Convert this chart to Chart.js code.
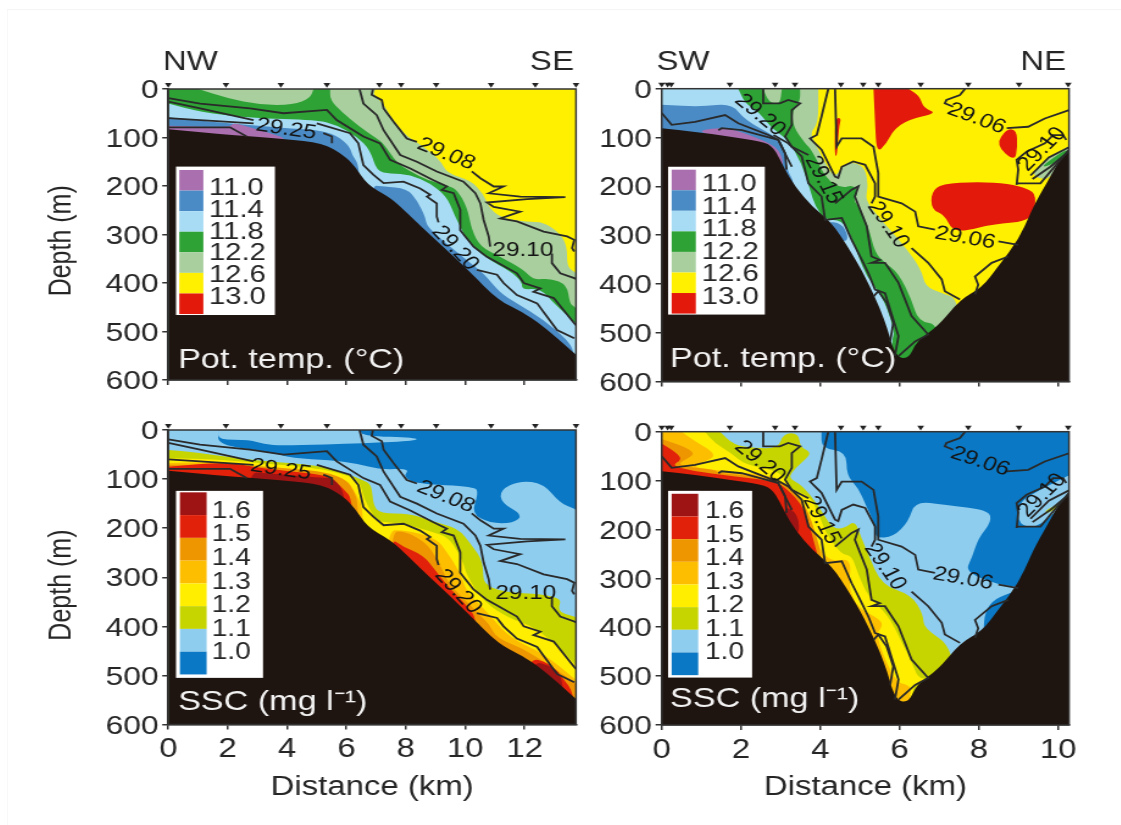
<!DOCTYPE html>
<html>
<head>
<meta charset="utf-8">
<title>Sections</title>
<script src="https://cdn.jsdelivr.net/npm/chart.js@4/dist/chart.umd.min.js"></script>
<style>
  html, body { margin: 0; background: #fff; }
  #stage { position: relative; width: 1121px; height: 825px; overflow: hidden; }
  #edge { position: absolute; left: 7px; top: 9px; right: 0; bottom: 0; border-top: 1px solid #f5f5f5; border-left: 1px solid #f8f8f8; }
  /* the figure is a bit wider than tall and soft, so stretch and blur each canvas */
  canvas { position: absolute; transform-origin: 0 0; transform: scaleX(1.22); filter: blur(0.6px); }
</style>
</head>
<body>
<div id="stage">
  <div id="edge"></div>
  <canvas id="tempNW"></canvas>
  <canvas id="tempSW"></canvas>
  <canvas id="sscNW"></canvas>
  <canvas id="sscSW"></canvas>
</div>
<script>
// ---- data, all [distance km, depth m] ----
const depthTicks = [0, 100, 200, 300, 400, 500, 600];
const stationsNW = [0, 1.94, 3.79, 5.34, 7.11, 7.84, 9.02, 10.87, 12.36, 13.73];
const stationsSW = [0, 0.15, 0.24, 1.72, 2.86, 3.36, 4.52, 5.08, 5.46, 6.53, 7.73, 9.01, 10.25];

const tempLabels = ['11.0', '11.4', '11.8', '12.2', '12.6', '13.0'];
const sscLabels = ['1.6', '1.5', '1.4', '1.3', '1.2', '1.1', '1.0'];

// seabed
const bedNW = [[0,83],[2.2,95],[3.9,103],[5.2,111],[5.9,136],[6.3,160],[6.7,198],[7.5,225],[8,253],[8.7,294],[9.5,339],[10.2,380],[11.1,435],[11.9,459],[12.6,487],[13.73,548],[13.73,600],[0,600]];
const bedSW = [[0,81],[0.84,88],[1.68,98],[2.52,108],[2.82,119],[3.11,166],[3.36,200],[3.78,241],[4.29,275],[4.71,326],[5.13,384],[5.63,473],[5.88,548],[6.22,555],[6.43,517],[6.97,487],[7.53,432],[8.07,408],[8.49,364],[9,309],[9.3,255],[9.46,228],[9.8,180],[10,150],[10.27,125],[10.27,600],[0,600]];

// potential temperature, NW-SE
const fullNW = [[0,0],[13.73,0],[13.73,600],[0,600]];
const paleNW = [[0,0],[6.97,0],[6.9,12],[7.25,30],[7.47,57],[8.03,98],[8.37,109],[9.16,146],[9.38,174],[10.17,188],[10.6,215],[10.84,249],[11.3,267],[12.08,274],[12.64,274],[13.2,298],[13.43,325],[13.43,366],[13.67,377],[13.73,380],[13.73,600],[0,600]];
const greenNW = [[0,0],[5.45,0],[5.45,23],[5.84,47],[6.35,74],[7.02,102],[7.25,112],[7.7,153],[8.15,170],[8.71,188],[9.49,201],[9.72,208],[10.06,243],[10.22,291],[10.51,325],[11.18,346],[11.97,373],[12.3,394],[12.87,390],[13.43,404],[13.52,442],[13.67,449],[13.73,452],[13.73,600],[0,600]];
const palePatchNW = [[1.01,0],[4.89,0],[4.78,19],[4.21,33],[3.09,33],[1.97,19]];
const lightNW = [[0,30],[1.07,47],[2.75,60],[5,64],[5.67,74],[6.35,98],[6.8,126],[7.02,170],[7.47,174],[8.15,177],[8.82,194],[9.38,222],[9.61,256],[9.83,284],[10.06,311],[10.62,346],[11.52,376],[11.91,397],[11.91,414],[12.53,411],[12.98,442],[13.67,480],[13.73,485],[13.73,600],[0,600]];
const blueNW1 = [[0,58],[0.73,64],[2.19,71],[3.88,81],[5,84],[5.67,95],[6.12,119],[6.18,136],[6.46,160],[6.46,300],[0,300]];
const blueNW2 = [[6.74,198],[7.25,201],[8.03,205],[8.37,229],[8.65,263],[8.71,284],[9.49,325],[10.17,359],[10.62,380],[11.18,421],[11.74,442],[12.64,476],[13.43,517],[13.67,541],[13.73,600],[6.74,600]];
const purpleNW = [[0,76],[2.08,79],[2.19,69],[2.87,81],[3.43,91],[4.1,105],[4.1,200],[0,200]];

// potential temperature, SW-NE
const fullSW = [[0,0],[10.27,0],[10.27,600],[0,600]];
const paleSW = [[0,0],[3.95,0],[3.95,71],[3.74,91],[3.87,112],[4.12,153],[4.37,183],[4.54,160],[4.83,149],[5.13,163],[5.21,200],[5.13,228],[5.46,262],[6.13,323],[6.55,371],[6.64,405],[7.06,419],[7.52,432],[7.52,600],[0,600]];
const greenSW = [[0,0],[3.49,0],[3.49,27],[3.28,47],[3.32,78],[3.61,112],[3.78,125],[4.16,187],[4.54,204],[4.83,197],[4.96,214],[4.83,228],[4.96,241],[5.21,282],[5.38,337],[5.63,357],[5.97,378],[6.3,432],[6.47,477],[7.02,484],[7.02,600],[0,600]];
const palePatchSW = [[2.56,0],[3.03,0],[2.98,33],[2.69,27]];
const lightSW = [[0,0],[1.93,0],[2.1,30],[2.44,47],[2.77,81],[3.19,105],[3.53,153],[3.74,207],[3.87,241],[4.12,269],[4.54,269],[4.79,303],[4.96,344],[5.17,385],[5.46,415],[5.67,446],[5.88,501],[5.8,514],[5.8,600],[0,600]];
const blueSW1 = [[0,33],[1.01,37],[1.76,30],[2.1,64],[2.86,98],[3.07,112],[3.15,166],[3.36,194],[3.36,300],[0,300]];
const blueSW2 = [[4.12,272],[4.54,276],[4.71,303],[4.62,316],[4,300]];
const purpleSW = [[0.92,85],[1.6,79],[2.1,91],[2.82,115],[3.03,136],[3.07,166],[2.69,119],[1.93,102],[1.18,95]];
const redSW1 = [[5.34,0],[6.22,0],[6.51,16],[6.6,40],[6.95,50],[6.22,63],[5.84,85],[5.67,112],[5.42,132],[5.38,71]];
const redSW2 = [[8.7,82],[8.95,85],[8.97,119],[8.9,150],[8.42,115]];
const redSW3 = [[7.06,195],[7.98,191],[8.74,195],[9.24,205],[9.45,219],[9.36,271],[8.32,278],[7.65,292],[7.31,289],[7.14,260],[6.8,247],[6.8,212]];
const redSW4 = [[4.37,60],[4.53,60],[4.47,78],[4.42,140],[4.36,136]];
const paleCornerSW = [[9.3,176],[9.76,141],[10.27,118],[10.27,140],[9.8,182],[9.6,186]];
const greenCornerSW = [[9.55,162],[9.9,140],[10.22,124],[10.22,133],[9.85,155]];

// SSC, NW-SE
const sscLightNW = [[0,0],[1.68,0],[1.68,31],[3.31,43],[4.21,58],[5.44,61],[6.34,68],[7.13,81],[8.14,78],[7.91,95],[8.36,110],[10.33,115],[10.44,129],[10.21,170],[10.83,190],[11.62,190],[11.95,173],[11.22,149],[11.17,122],[11.84,103],[12.63,109],[13.19,149],[13.66,160],[13.73,163],[13.73,600],[0,600]];
const sscLightTopNW = [[1.68,0],[6.45,0],[6.57,12],[8.36,16],[8.36,22],[6.68,27],[3.87,32],[3.2,29],[2.75,20],[1.68,20]];
const sscLimeNW = [[0,41],[0.84,45],[2.75,61],[4.88,71],[5.67,81],[6.57,102],[6.85,112],[6.9,153],[7.13,170],[8.14,170],[8.92,187],[9.76,200],[10.21,234],[10.61,268],[10.61,329],[13.3,336],[13.08,370],[13.66,380],[13.73,382],[13.73,600],[0,600]];
const sscYellowNW = [[0,58],[1.07,58],[2.75,65],[4.99,78],[5.78,88],[6.45,102],[6.57,139],[6.9,173],[7.01,187],[7.91,190],[9.03,210],[9.48,221],[9.93,268],[10.04,295],[10.61,350],[11.5,384],[12.18,397],[12.96,431],[13.66,475],[13.73,480],[13.73,600],[0,600]];
const sscAmberNW1 = [[0,67],[1.63,65],[2.86,71],[4.99,85],[6,98],[6.34,132],[6.57,160],[6.57,300],[0,300]];
const sscAmberNW2 = [[7.24,204],[8.02,204],[9.03,221],[9.37,248],[9.82,289],[10.04,329],[10.49,356],[10.83,377],[11.5,424],[12.63,455],[13.66,506],[13.73,510],[13.73,600],[7.24,600]];
const sscOrangeNW1 = [[0,71],[2.19,71],[4.66,81],[5.44,88],[6,102],[6.23,122],[6.4,149],[6.4,300],[0,300]];
const sscOrangeNW2 = [[7.41,207],[8.02,207],[8.7,231],[9.03,261],[9.26,289],[9.48,316],[10.16,356],[10.49,377],[10.83,397],[11.05,424],[12.06,448],[13.66,513],[13.73,518],[13.73,600],[7.41,600]];
const sscRedNW1 = [[0,75],[1.96,65],[3.09,78],[4.77,88],[5.44,95],[5.89,119],[6.23,143],[6.23,300],[0,300]];
const sscRedNW2 = [[7.41,217],[7.91,238],[8.59,255],[9.03,289],[9.48,323],[10.04,356],[10.44,390],[10.44,600],[7.41,600]];
const sscRedNW3 = [[12.06,462],[12.85,475],[13.3,506],[13.66,536],[13.66,600],[12.06,600]];
const sscDarkNW1 = [[2.64,85],[3.31,88],[5.33,98],[5.56,98],[6,132],[6,300],[2.64,300]];
const sscDarkNW2 = [[12.18,469],[12.96,482],[13.3,506],[13.3,600],[12.18,600]];

// SSC, SW-NE
const sscLightSW = [[1.43,0],[4.03,0],[4.03,34],[4.66,41],[4.66,89],[4.96,116],[5.13,147],[5.38,191],[5.38,218],[5.84,215],[6.22,184],[6.39,142],[7.14,150],[8.24,160],[8.32,184],[7.98,218],[7.82,259],[7.65,286],[8.49,314],[9.08,317],[8.91,327],[8.4,341],[8.15,368],[8.11,409],[8.11,600],[0,600],[0,0]];
const sscLightCornerSW = [[8.99,147],[9.37,126],[10.27,89],[10.27,136],[9.5,198],[8.99,191]];
const sscLimeCornerSW = [[9.62,164],[10,147],[10.27,133],[9.79,167]];
const sscLimeSW = [[1.47,0],[1.81,27],[2.35,34],[2.94,34],[3.07,3],[3.45,3],[3.49,31],[3.74,41],[3.7,51],[3.36,75],[3.19,95],[3.53,109],[3.95,150],[4.29,198],[4.62,198],[4.87,181],[5.04,218],[5.21,252],[5.55,314],[6.3,334],[6.6,375],[6.6,402],[7.39,443],[7.39,600],[0,600],[0,0]];
const sscYellowSW = [[0.5,0],[1.09,0],[1.34,24],[1.76,44],[2.1,68],[3.03,82],[3.19,116],[3.7,130],[3.95,164],[4.12,205],[4.54,252],[4.79,252],[4.96,293],[5.21,338],[5.71,375],[6.05,430],[6.3,471],[6.47,505],[6.72,505],[6.3,518],[6.3,600],[0,600],[0,0]];
const sscAmberSW = [[0,0],[0.5,0],[0.84,20],[1.22,37],[1.34,51],[1.09,61],[0.75,72],[1.43,80],[2.69,89],[2.94,99],[3.53,136],[3.78,184],[3.95,239],[4.29,266],[4.79,259],[4.71,321],[4.96,361],[5.46,382],[5.59,396],[5.38,416],[5.88,512],[6.22,518],[6.3,529],[6.22,552],[6.22,600],[0,600]];
const sscOrangeSW = [[0,15],[0.55,30],[0.84,44],[0.67,54],[0.4,66],[0.67,72],[1.34,78],[1.43,85],[2.94,95],[3.61,143],[3.95,225],[4.03,259],[4.03,600],[0,600]];
const sscRedSW = [[0,24],[0.38,44],[0.51,57],[0.25,69],[0.67,78],[1.43,88],[2.82,100],[3.15,116],[3.61,156],[3.87,235],[3.95,258],[3.95,600],[0,600]];
const sscDarkSW = [[3.1,150],[3.45,170],[3.47,215],[3.1,190]];

// density contours, shared by both panels of a section
const contoursNW = [
  [[6.89,0],[6.85,12],[7.19,23],[7.25,40],[7.58,67],[8.03,102],[8.37,109]],
  [[10.22,170],[10.51,184],[10.96,201],[11.29,201],[10.79,215],[11.85,222],[13.37,223],[12.08,227],[10.73,234],[10.96,243],[11.85,253],[11.18,267],[11.74,273],[12.64,294],[13.43,304],[13.67,311],[13.6,328],[13.67,335]],
  [[6.44,0],[6.57,30],[7.02,54],[7.25,85],[7.81,136],[8.37,150],[9.04,170],[9.94,191],[10.34,215],[10.51,236],[10.62,270],[10.79,304],[10.84,325]],
  [[12.92,339],[12.92,359],[13.2,380],[13.67,390],[13.73,392]],
  [[0,19],[1.07,30],[2.75,40],[3.88,50],[5.34,43],[5.67,64],[6.57,98],[7.13,112],[7.47,146],[8.15,164],[8.93,188],[9.38,201],[9.21,208],[9.61,215],[9.83,249],[9.83,291],[10.28,325],[10.73,346],[11.74,380],[11.97,400],[12.53,411],[12.3,418],[12.98,431],[13.67,483],[13.73,487]],
  [[0,26],[1.07,40],[2.87,64]],
  [[5,71],[6.12,91],[6.4,112],[6.57,157],[6.91,177],[7.25,194],[7.92,191],[8.48,205],[8.82,218],[8.71,222],[9.04,236],[9.04,263],[9.1,275]],
  [[10.39,373],[11.07,383],[11.29,400],[11.74,425],[12.42,442],[12.75,469],[13.09,497],[13.67,514]],
  [[0,60],[1.07,64],[2.87,71]],
  [[0,79],[2.08,79],[2.64,98]],
  [[5.22,91],[5.51,98],[5.51,112]]
];
const contoursSW = [
  [[7.65,0],[7.52,13],[7.18,23],[7.14,30],[7.35,37]],
  [[8.7,81],[9.24,78],[9.66,61],[10.27,44]],
  [[4.37,0],[4.41,119],[4.54,102],[5.04,102],[5.34,119],[5.46,173],[5.46,221],[6.05,235],[6.39,252],[6.47,282],[6.89,289]],
  [[8.49,313],[8.99,320]],
  [[8.74,344],[8.32,357],[7.9,385],[7.98,402],[7.9,422]],
  [[4.2,0],[4.03,57],[3.91,95],[3.74,102],[4.03,125],[4.37,180],[4.45,183],[4.54,160],[4.83,149],[5.13,156],[5.38,194],[5.38,221],[5.29,235]],
  [[6.3,327],[6.72,357],[7.06,391],[7.14,415],[7.52,432]],
  [[2.56,0],[2.56,30],[2.98,30],[3.19,23],[3.49,30],[3.28,44],[3.28,74],[3.11,98],[3.28,119],[3.7,136]],
  [[4.37,235],[4.79,207],[4.96,200],[4.87,221],[5.17,282],[5.29,344],[5.5,351],[5.29,357],[5.63,357],[5.97,398],[6.3,466],[6.72,504],[6.39,518],[5.97,548]],
  [[2.82,95],[3.19,112],[3.53,139],[3.7,194],[4.03,221],[4.12,269],[4.54,265],[4.79,310],[4.96,337],[5.21,378],[5.38,412],[5.63,419],[5.97,507],[5.88,548]],
  [[0,50],[0.25,74],[0.84,68],[1.6,54],[1.93,71],[2.69,95],[2.94,105],[3.11,132],[3.15,166]],
  [[1.43,85],[1.51,81],[2.02,85],[2.94,105],[3.28,160]],
  [[5.34,426],[5.46,415],[5.67,439],[5.84,480],[5.76,518]],
  [[8.95,197],[8.99,166],[8.95,146],[9.2,129],[9.66,112],[9.87,95],[10.12,95],[10.2,105]],
  [[8.95,194],[9.55,194],[9.8,170],[10.27,125]],
  [[9.3,178],[9.76,141],[10.27,120]],
  [[9.35,185],[9.8,160],[10.27,128]]
];

// ---- colours ----
const TEMP = { purple: '#a96fae', blue: '#4a8bc6', light: '#a8dcf5', green: '#2ea235', pale: '#a9cf9f', yellow: '#fff000', red: '#e2190b' };
const SSC = { dark: '#9e1414', red: '#e2210b', orange: '#ee9600', amber: '#fdbe00', yellow: '#ffee00', lime: '#c6d400', light: '#8fcdef', blue: '#0a78c4' };
const GROUND = '#1f1510';
const INK = '#262626';
const FONT = '"Liberation Sans", Arial, sans-serif';
const STRETCH = 1.22;

const tempSwatches = [TEMP.purple, TEMP.blue, TEMP.light, TEMP.green, TEMP.pale, TEMP.yellow, TEMP.red];
const sscSwatches = [SSC.dark, SSC.red, SSC.orange, SSC.amber, SSC.yellow, SSC.lime, SSC.light, SSC.blue];

// ---- panels ----
const panels = [
  {
    id: 'tempNW', canvas: { left: 40, top: 40, width: 460, height: 360 }, area: { left: 168.3, right: 576, top: 89, bottom: 380 },
    xMax: 13.73, stations: stationsNW, contours: contoursNW, xLabels: false, yTitle: [-3.58, 313],
    regions: [[fullNW, TEMP.yellow], [paleNW, TEMP.pale], [greenNW, TEMP.green], [palePatchNW, TEMP.pale], [lightNW, TEMP.light], [blueNW1, TEMP.blue], [blueNW2, TEMP.blue], [purpleNW, TEMP.purple], [bedNW, GROUND]],
    legend: { box: [0.26, 3.59, 160, 466], swatch: [0.37, 1.18, 167, 464], textX: 1.37, textY: 205, textStep: 44.8, size: 24, colors: tempSwatches, labels: tempLabels },
    notes: [['29.25', 3.97, 83, 10], ['29.08', 9.36, 134, 26], ['29.10', 11.94, 332, 0], ['29.20', 9.66, 328, 52]],
    corner: ['NW', -0.18, -39, 'SE', 13.66], name: ['Pot. temp. (°C)', 0.33, 575]
  },
  {
    id: 'tempSW', canvas: { left: 590, top: 40, width: 423, height: 360 }, area: { left: 661.7, right: 1069, top: 88.7, bottom: 382 },
    xMax: 10.27, stations: stationsSW, contours: contoursSW, xLabels: false, yTitle: null,
    regions: [[fullSW, TEMP.yellow], [paleSW, TEMP.pale], [paleCornerSW, TEMP.pale], [greenSW, TEMP.green], [greenCornerSW, TEMP.green], [palePatchSW, TEMP.pale], [lightSW, TEMP.light], [blueSW1, TEMP.blue], [blueSW2, TEMP.blue], [purpleSW, TEMP.purple], [redSW1, TEMP.red], [redSW2, TEMP.red], [redSW3, TEMP.red], [redSW4, TEMP.red], [bedSW, GROUND]],
    legend: { box: [0.16, 2.6, 160, 463], swatch: [0.25, 0.86, 166, 461], textX: 1.01, textY: 197, textStep: 46, size: 24, colors: tempSwatches, labels: tempLabels },
    notes: [['29.20', 2.48, 54, 45], ['29.15', 4.08, 187, 66], ['29.10', 5.71, 279, 60], ['29.06', 7.94, 61, 24], ['29.06', 7.65, 306, 12], ['29.10', 9.59, 124, -50]],
    corner: ['SW', -0.13, -38, 'NE', 10.2], name: ['Pot. temp. (°C)', 0.21, 571]
  },
  {
    id: 'sscNW', canvas: { left: 40, top: 405, width: 460, height: 405 }, area: { left: 168.3, right: 576, top: 430, bottom: 724.5 },
    xMax: 13.73, stations: stationsNW, contours: contoursNW, xLabels: true, yTitle: [-3.58, 316],
    regions: [[fullNW, SSC.blue], [sscLightNW, SSC.light], [sscLightTopNW, SSC.light], [sscLimeNW, SSC.lime], [sscYellowNW, SSC.yellow], [sscAmberNW1, SSC.amber], [sscAmberNW2, SSC.amber], [sscOrangeNW1, SSC.orange], [sscOrangeNW2, SSC.orange], [sscRedNW1, SSC.red], [sscRedNW2, SSC.red], [sscRedNW3, SSC.red], [sscDarkNW1, SSC.dark], [sscDarkNW2, SSC.dark], [bedNW, GROUND]],
    legend: { box: [0.26, 3.19, 124, 505], swatch: [0.39, 1.29, 127, 498], textX: 1.46, textY: 166, textStep: 48, size: 23, colors: sscSwatches, labels: sscLabels },
    notes: [['29.25', 3.79, 81, 10], ['29.08', 9.35, 136, 26], ['29.10', 12.04, 333, 0], ['29.20', 9.76, 329, 52]],
    corner: null, name: ['SSC (mg l⁻¹)', 0.33, 570]
  },
  {
    id: 'sscSW', canvas: { left: 590, top: 405, width: 423, height: 405 }, area: { left: 661.7, right: 1069, top: 431.7, bottom: 725 },
    xMax: 10.27, stations: stationsSW, contours: contoursSW, xLabels: true, yTitle: null,
    regions: [[fullSW, SSC.blue], [sscLightSW, SSC.light], [sscLightCornerSW, SSC.light], [sscLimeCornerSW, SSC.lime], [sscLimeSW, SSC.lime], [sscYellowSW, SSC.yellow], [sscAmberSW, SSC.amber], [sscOrangeSW, SSC.orange], [sscRedSW, SSC.red], [sscDarkSW, SSC.dark], [bedSW, GROUND]],
    legend: { box: [0.16, 2.28, 121, 503], swatch: [0.25, 0.92, 127, 498], textX: 1.09, textY: 164, textStep: 48, size: 23, colors: sscSwatches, labels: sscLabels },
    notes: [['29.20', 2.48, 61, 45], ['29.15', 4.03, 181, 66], ['29.10', 5.63, 276, 60], ['29.06', 8.03, 61, 22], ['29.06', 7.6, 301, 12], ['29.10', 9.59, 130, -50]],
    corner: null, name: ['SSC (mg l⁻¹)', 0.21, 564]
  }
];

// fills the closed outlines under the contour lines, rounding the inner corners
const regionFill = {
  id: 'regionFill',
  beforeDatasetsDraw(chart) {
    const ctx = chart.ctx, area = chart.chartArea;
    const onEdge = p => p.x <= area.left + 0.5 || p.x >= area.right - 0.5 || p.y <= area.top + 0.5 || p.y >= area.bottom - 0.5;
    ctx.save();
    ctx.beginPath();
    ctx.rect(area.left, area.top, area.width, area.height);
    ctx.clip();
    chart.data.datasets.forEach((ds, i) => {
      if (!ds.regionColor) return;
      const pts = chart.getDatasetMeta(i).data, n = pts.length;
      const mid = (a, b) => ({ x: (a.x + b.x) / 2, y: (a.y + b.y) / 2 });
      ctx.beginPath();
      const start = mid(pts[n - 1], pts[0]);
      ctx.moveTo(start.x, start.y);
      pts.forEach((p, k) => {
        const m = mid(p, pts[(k + 1) % n]);
        if (onEdge(p)) {
          ctx.lineTo(p.x, p.y);
          ctx.lineTo(m.x, m.y);
        } else {
          ctx.quadraticCurveTo(p.x, p.y, m.x, m.y);
        }
      });
      ctx.closePath();
      ctx.fillStyle = ds.regionColor;
      ctx.fill();
    });
    ctx.restore();
  }
};

// legend box, frame and text that sits inside the plot
function overlay(panel) {
  return {
    id: 'overlay',
    afterDatasetsDraw(chart) {
      const ctx = chart.ctx, xs = chart.scales.x, ys = chart.scales.y, area = chart.chartArea;
      const px = v => xs.getPixelForValue(v), py = v => ys.getPixelForValue(v);
      ctx.save();
      ctx.textBaseline = 'middle';
      ctx.fillStyle = '#141414';
      ctx.font = '20px ' + FONT;
      panel.notes.forEach(([text, x, y, deg]) => {
        ctx.save();
        ctx.translate(px(x), py(y));
        ctx.rotate(deg * Math.PI / 180);
        ctx.textAlign = 'center';
        ctx.fillText(text, 0, 0);
        ctx.restore();
      });

      const lg = panel.legend;
      ctx.fillStyle = '#fff';
      ctx.fillRect(px(lg.box[0]), py(lg.box[2]), px(lg.box[1]) - px(lg.box[0]), py(lg.box[3]) - py(lg.box[2]));
      const rowH = (py(lg.swatch[3]) - py(lg.swatch[2])) / lg.colors.length;
      lg.colors.forEach((c, i) => {
        ctx.fillStyle = c;
        ctx.fillRect(px(lg.swatch[0]), py(lg.swatch[2]) + i * rowH, px(lg.swatch[1]) - px(lg.swatch[0]), rowH);
      });
      ctx.fillStyle = INK;
      ctx.font = lg.size + 'px ' + FONT;
      ctx.textAlign = 'left';
      lg.labels.forEach((t, i) => ctx.fillText(t, px(lg.textX), py(lg.textY + i * lg.textStep)));

      ctx.textBaseline = 'alphabetic';
      ctx.fillStyle = '#f2f2f2';
      ctx.font = '28px ' + FONT;
      ctx.fillText(panel.name[0], px(panel.name[1]), py(panel.name[2]));

      if (panel.corner) {
        const [a, ax, y, b, bx] = panel.corner;
        ctx.fillStyle = INK;
        ctx.font = '27px ' + FONT;
        ctx.textAlign = 'left';
        ctx.fillText(a, px(ax), py(y));
        ctx.textAlign = 'right';
        ctx.fillText(b, px(bx), py(y));
      }

      if (panel.yTitle) {
        ctx.save();
        ctx.translate(px(panel.yTitle[0]), py(panel.yTitle[1]));
        ctx.rotate(-Math.PI / 2);
        ctx.textAlign = 'center';
        ctx.textBaseline = 'middle';
        ctx.fillStyle = INK;
        ctx.font = '25px ' + FONT;
        ctx.fillText('Depth (m)', 0, 0);
        ctx.restore();
      }

      ctx.strokeStyle = '#333';
      ctx.lineWidth = 1.5;
      ctx.strokeRect(area.left, area.top, area.width, area.height);
      ctx.restore();
    }
  };
}

function buildPanel(panel) {
  const el = document.getElementById(panel.id);
  const c = panel.canvas;
  el.width = c.width;
  el.height = c.height;
  el.style.left = c.left + 'px';
  el.style.top = c.top + 'px';

  const areaLeft = (panel.area.left - c.left) / STRETCH;
  const areaRight = (panel.area.right - c.left) / STRETCH;

  const datasets = panel.regions.map(([points, color]) => ({
    data: points, regionColor: color, showLine: false, pointRadius: 0
  }));
  panel.contours.forEach(line => datasets.push({
    data: line, showLine: true, borderColor: '#2a2a2a', borderWidth: 1.8, pointRadius: 0, tension: 0, fill: false
  }));
  // border is only there so the marker above the frame still counts as inside the plot
  datasets.push({
    data: panel.stations.map(km => [km, -9]), showLine: false, clip: false,
    pointStyle: 'triangle', rotation: 180, pointRadius: 3.2, backgroundColor: '#222', borderColor: 'rgba(0,0,0,0)', borderWidth: 2
  });

  new Chart(el, {
    type: 'scatter',
    data: { datasets },
    options: {
      responsive: false,
      animation: false,
      events: [],
      layout: { padding: { left: 0, right: c.width - areaRight, top: panel.area.top - c.top, bottom: 0 } },
      plugins: { legend: { display: false }, tooltip: { enabled: false } },
      scales: {
        x: {
          type: 'linear', min: 0, max: panel.xMax,
          afterFit(s) { s.height = c.height - (panel.area.bottom - c.top); },
          grid: { drawOnChartArea: false, tickLength: 5, color: '#333', lineWidth: 1.5 },
          border: { color: '#333', width: 1.5 },
          ticks: { display: panel.xLabels, stepSize: 2, includeBounds: false, autoSkip: false, maxRotation: 0, padding: 4, color: INK, font: { family: FONT, size: 27 } },
          title: { display: panel.xLabels, text: 'Distance (km)', color: INK, padding: { top: 0, bottom: 6 }, font: { family: FONT, size: 27 } }
        },
        y: {
          type: 'linear', reverse: true, min: 0, max: 600,
          afterFit(s) { s.width = areaLeft; },
          afterBuildTicks(s) { s.ticks = depthTicks.map(v => ({ value: v })); },
          grid: { drawOnChartArea: false, tickLength: 5, color: '#333', lineWidth: 1.5 },
          border: { color: '#333', width: 1.5 },
          ticks: { autoSkip: false, padding: 3, labelOffset: 2, color: INK, font: { family: FONT, size: 26 } }
        }
      }
    },
    plugins: [regionFill, overlay(panel)]
  });
}

panels.forEach(buildPanel);
</script>
</body>
</html>
